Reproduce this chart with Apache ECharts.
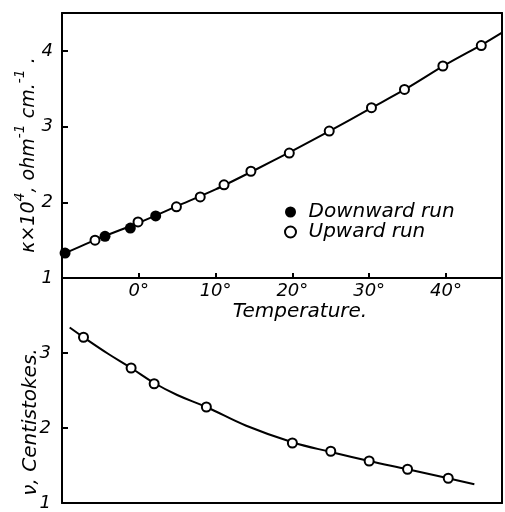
<!DOCTYPE html>
<html>
<head>
<meta charset="utf-8">
<script src="https://cdn.jsdelivr.net/npm/echarts@6/dist/echarts.min.js"></script>
<style>
html,body{margin:0;padding:0;background:#fff;}
#c{width:505px;height:512px;}
</style>
</head>
<body>
<div id="c"></div>
<script>
// Top panel: conductivity (kappa x 10^4) vs temperature
const downT = [-9.6, -4.4, -1.1, 2.2];
const downK = [1.33, 1.55, 1.66, 1.82];
const upT = [-5.7, -0.1, 4.9, 8.0, 11.1, 14.6, 19.6, 24.8, 30.3, 34.6, 39.6, 44.6];
const upK = [1.50, 1.74, 1.94, 2.07, 2.23, 2.41, 2.65, 2.94, 3.25, 3.49, 3.80, 4.07];
const fitKT = [-10, -5, 0, 5, 10, 15, 20, 25, 30, 35, 40, 45, 47.3];
const fitK = [1.31, 1.53, 1.73, 1.95, 2.17, 2.42, 2.68, 2.95, 3.23, 3.51, 3.82, 4.10, 4.24];
// Bottom panel: kinematic viscosity (centistokes) vs temperature
const viscT = [-7.2, -1.0, 2.0, 8.8, 20.0, 25.0, 30.0, 35.0, 40.3];
const viscV = [3.21, 2.80, 2.59, 2.28, 1.80, 1.69, 1.56, 1.45, 1.33];
const fitVT = [-9, -7.2, -4, -1, 2, 5, 8.8, 14, 20, 25, 30, 35, 40.3, 43.7];
const fitV = [3.34, 3.21, 2.99, 2.80, 2.60, 2.44, 2.28, 2.03, 1.81, 1.68, 1.56, 1.45, 1.33, 1.25];
// Tick labels
const tempTicks = [0, 10, 20, 30, 40];
const kappaTicks = [1, 2, 3, 4];
const viscTicks = [1, 2, 3];
const legendNames = ['Downward run', 'Upward run'];

const FONT = 'DejaVu Sans';
const zip = (a, b) => a.map((v, i) => [v, b[i]]);
const lineStyleAxis = {color: '#000', width: 2};
const labelFont = {fontFamily: FONT, fontStyle: 'italic', fontSize: 18, color: '#000'};

const chart = echarts.init(document.getElementById('c'), null, {renderer: 'canvas'});
chart.setOption({
  backgroundColor: '#fff',
  animation: false,
  grid: [
    {left: 62, top: 13, width: 440, height: 265},
    {left: 62, top: 278, width: 440, height: 225}
  ],
  legend: {
    data: legendNames,
    orient: 'vertical',
    left: 279,
    top: 197,
    itemWidth: 26,
    itemHeight: 11,
    itemGap: 0,
    selectedMode: false,
    textStyle: {fontFamily: FONT, fontStyle: 'italic', fontSize: 20, color: '#000', lineHeight: 20}
  },
  xAxis: [
    {
      gridIndex: 0, type: 'value', position: 'bottom', min: -10, max: 47.3, interval: 10,
      axisLine: {show: true, onZero: false, lineStyle: lineStyleAxis},
      axisTick: {show: true, inside: true, length: 5, lineStyle: lineStyleAxis},
      splitLine: {show: false},
      axisLabel: Object.assign({
        show: true, margin: 4, showMinLabel: false, showMaxLabel: false,
        formatter: v => tempTicks.indexOf(v) >= 0 ? v + '°' : ''
      }, labelFont)
    },
    {
      gridIndex: 0, type: 'value', position: 'top', min: -10, max: 47.3,
      axisLine: {show: true, onZero: false, lineStyle: lineStyleAxis},
      axisTick: {show: false}, axisLabel: {show: false}, splitLine: {show: false}
    },
    {
      gridIndex: 1, type: 'value', position: 'bottom', min: -10, max: 47.3,
      axisLine: {show: true, onZero: false, lineStyle: lineStyleAxis},
      axisTick: {show: false}, axisLabel: {show: false}, splitLine: {show: false}
    }
  ],
  yAxis: [
    {
      gridIndex: 0, type: 'value', position: 'left', min: 1, max: 4.5, interval: 1,
      axisLine: {show: true, onZero: false, lineStyle: lineStyleAxis},
      axisTick: {show: true, inside: true, length: 6, lineStyle: lineStyleAxis},
      splitLine: {show: false},
      axisLabel: Object.assign({
        show: true, margin: 9, showMaxLabel: false,
        formatter: v => kappaTicks.indexOf(v) >= 0 ? String(v) : ''
      }, labelFont)
    },
    {
      gridIndex: 0, type: 'value', position: 'right', min: 1, max: 4.5,
      axisLine: {show: true, onZero: false, lineStyle: lineStyleAxis},
      axisTick: {show: false}, axisLabel: {show: false}, splitLine: {show: false}
    },
    {
      gridIndex: 1, type: 'value', position: 'left', min: 1, max: 4, interval: 1,
      axisLine: {show: true, onZero: false, lineStyle: lineStyleAxis},
      axisTick: {show: true, inside: true, length: 6, lineStyle: lineStyleAxis},
      splitLine: {show: false},
      axisLabel: Object.assign({
        show: true, margin: 11, showMaxLabel: false,
        formatter: v => viscTicks.indexOf(v) >= 0 ? String(v) : ''
      }, labelFont)
    },
    {
      gridIndex: 1, type: 'value', position: 'right', min: 1, max: 4,
      axisLine: {show: true, onZero: false, lineStyle: lineStyleAxis},
      axisTick: {show: false}, axisLabel: {show: false}, splitLine: {show: false}
    }
  ],
  series: [
    {
      name: 'kappa fit', type: 'line', xAxisIndex: 0, yAxisIndex: 0,
      data: zip(fitKT, fitK), smooth: 0.3, showSymbol: false, silent: true,
      lineStyle: {color: '#000', width: 2}, z: 2
    },
    {
      name: legendNames[1], type: 'scatter', xAxisIndex: 0, yAxisIndex: 0,
      data: zip(upT, upK), symbol: 'circle', symbolSize: 9,
      itemStyle: {color: '#fff', borderColor: '#000', borderWidth: 2, opacity: 1}, z: 3
    },
    {
      name: legendNames[0], type: 'scatter', xAxisIndex: 0, yAxisIndex: 0,
      data: zip(downT, downK), symbol: 'circle', symbolSize: 11,
      itemStyle: {color: '#000', borderColor: '#000', borderWidth: 0, opacity: 1}, z: 4
    },
    {
      name: 'visc fit', type: 'line', xAxisIndex: 2, yAxisIndex: 2,
      data: zip(fitVT, fitV), smooth: 0.4, showSymbol: false, silent: true,
      lineStyle: {color: '#000', width: 2}, z: 2
    },
    {
      name: 'visc points', type: 'scatter', xAxisIndex: 2, yAxisIndex: 2,
      data: zip(viscT, viscV), symbol: 'circle', symbolSize: 9,
      itemStyle: {color: '#fff', borderColor: '#000', borderWidth: 2, opacity: 1}, z: 3
    }
  ],
  graphic: [
    {
      type: 'text', x: 300, y: 312,
      style: {
        text: 'Temperature.', fill: '#000',
        font: 'italic 20px "DejaVu Sans"', align: 'center', verticalAlign: 'middle'
      }
    },
    {
      type: 'text', x: 26, y: 155, rotation: Math.PI / 2,
      style: {
        text: '{a|κ×10}{s|4}{a|, ohm}{s|-1}{a| cm.}{s|-1}{a| .}',
        align: 'center', verticalAlign: 'middle',
        rich: {
          a: {fontFamily: FONT, fontStyle: 'italic', fontSize: 19, lineHeight: 26, verticalAlign: 'bottom', color: '#000'},
          s: {fontFamily: FONT, fontStyle: 'italic', fontSize: 14, verticalAlign: 'top', color: '#000'}
        }
      }
    },
    {
      type: 'text', x: 31, y: 422, rotation: Math.PI / 2,
      style: {
        text: 'ν, Centistokes.', fill: '#000',
        font: 'italic 20px "DejaVu Sans"', align: 'center', verticalAlign: 'middle'
      }
    }
  ]
});
</script>
</body>
</html>
